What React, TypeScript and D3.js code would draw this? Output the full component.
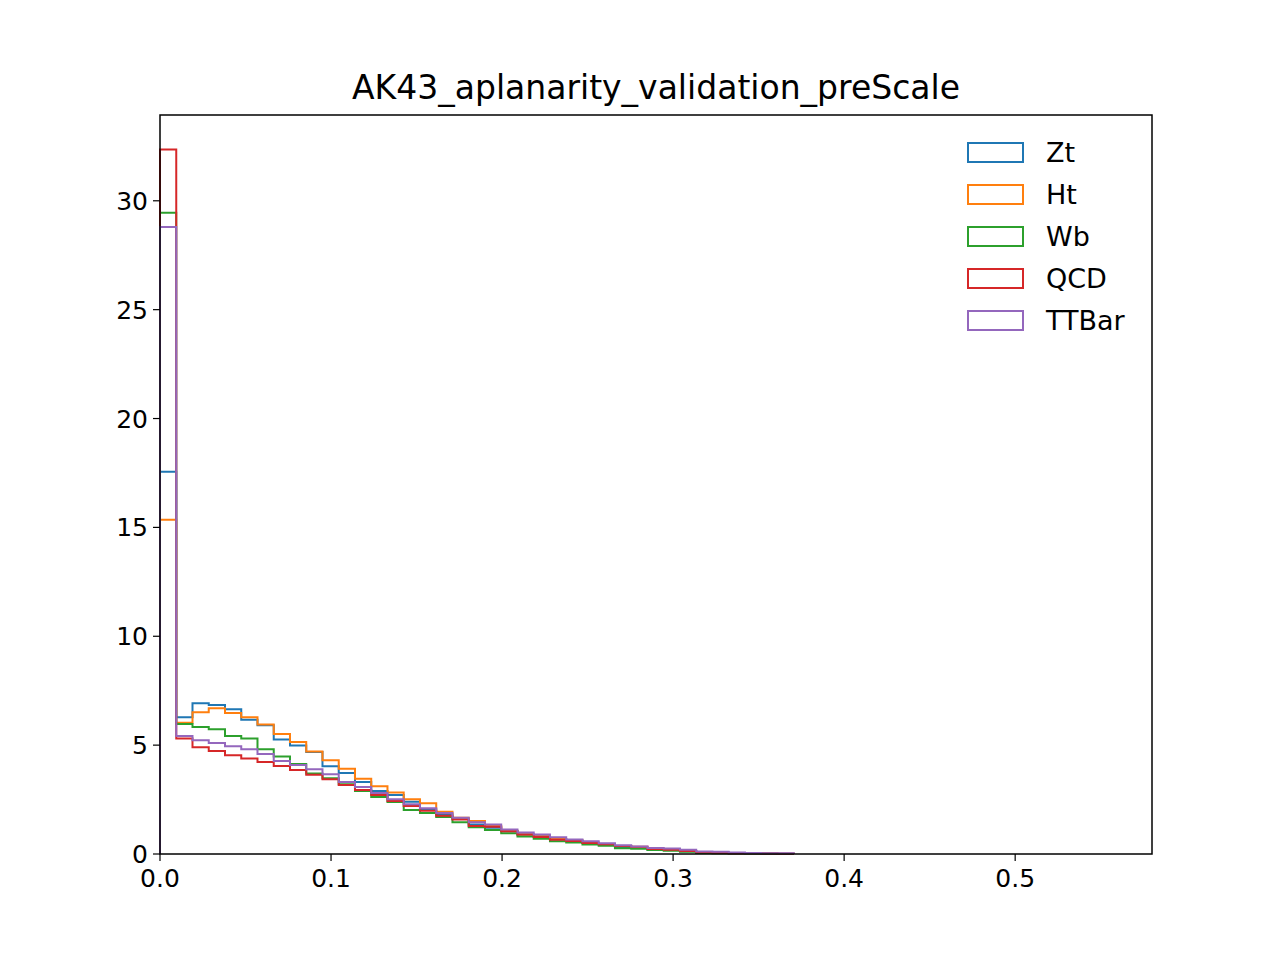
import React from "react";
import * as d3 from "d3";

const binWidth = 0.0095;
const series = ["Zt", "Ht", "Wb", "QCD", "TTBar"];
const colors = ["#1f77b4", "#ff7f0e", "#2ca02c", "#d62728", "#9467bd"];
const zt = [17.55,6.28,6.92,6.84,6.65,6.16,5.91,5.26,4.98,4.69,4.03,3.72,3.31,2.89,2.71,2.40,2.05,1.82,1.62,1.36,1.21,1.04,0.90,0.81,0.68,0.62,0.50,0.45,0.32,0.27,0.21,0.18,0.13,0.08,0.06,0.04,0.03,0.02,0.01];
const ht = [15.35,6.03,6.51,6.69,6.48,6.28,5.95,5.51,5.14,4.71,4.30,3.91,3.46,3.11,2.83,2.51,2.33,1.94,1.67,1.52,1.29,1.07,0.90,0.81,0.69,0.63,0.53,0.46,0.37,0.31,0.24,0.20,0.14,0.08,0.06,0.04,0.03,0.02,0.01];
const wb = [29.45,5.97,5.83,5.73,5.42,5.31,4.81,4.48,4.13,3.70,3.48,3.20,2.89,2.62,2.39,2.02,1.88,1.70,1.46,1.23,1.10,0.95,0.80,0.70,0.58,0.53,0.44,0.38,0.26,0.24,0.18,0.15,0.10,0.05,0.04,0.03,0.02,0.01,0.0];
const qcd = [32.35,5.31,4.90,4.73,4.53,4.39,4.23,4.04,3.86,3.64,3.43,3.17,2.94,2.71,2.43,2.20,1.99,1.76,1.59,1.29,1.25,1.05,0.89,0.78,0.66,0.60,0.50,0.45,0.37,0.33,0.23,0.20,0.14,0.08,0.06,0.04,0.03,0.02,0.01];
const ttbar = [28.8,5.42,5.22,5.10,4.95,4.81,4.59,4.27,4.09,3.89,3.66,3.31,3.08,2.80,2.51,2.28,2.10,1.88,1.67,1.46,1.36,1.13,0.99,0.90,0.77,0.67,0.58,0.49,0.40,0.35,0.28,0.25,0.19,0.12,0.10,0.07,0.05,0.04,0.03];
const data = [zt, ht, wb, qcd, ttbar];
const xTicks = [0, 0.1, 0.2, 0.3, 0.4, 0.5];
const yTicks = [0, 5, 10, 15, 20, 25, 30];

export default function App() {
  const L = 160, R = 1152, T = 115, B = 854;
  const x = d3.scaleLinear().domain([0, 0.58]).range([L, R]);
  const y = d3.scaleLinear().domain([0, 33.94]).range([B, T]);
  const path = (vals: number[]) => {
    const pts: [number, number][] = [[x(0), y(0)]];
    vals.forEach((v, i) => {
      pts.push([x(i * binWidth), y(v)]);
      pts.push([x((i + 1) * binWidth), y(v)]);
    });
    pts.push([x(vals.length * binWidth), y(0)]);
    return d3.line()(pts) as string;
  };
  const font = "DejaVu Sans";
  return (
    <svg width={1280} height={960} style={{ position: "absolute", left: 0, top: 0, background: "#fff" }} fontFamily={font}>
      <rect width={1280} height={960} fill="#fff" />
      <text x={656} y={99} textAnchor="middle" fontSize={33}>AK43_aplanarity_validation_preScale</text>
      {data.map((d, i) => (
        <path key={i} d={path(d)} fill="none" stroke={colors[i]} strokeWidth={2} strokeLinejoin="miter" />
      ))}
      <rect x={L} y={T} width={R - L} height={B - T} fill="none" stroke="#000" strokeWidth={1.5} />
      {xTicks.map(t => (
        <g key={t}>
          <line x1={x(t)} x2={x(t)} y1={B} y2={B + 7} stroke="#000" strokeWidth={1.2} />
          <text x={x(t)} y={B + 33} textAnchor="middle" fontSize={25}>{t.toFixed(1)}</text>
        </g>
      ))}
      {yTicks.map(t => (
        <g key={t}>
          <line x1={L - 7} x2={L} y1={y(t)} y2={y(t)} stroke="#000" strokeWidth={1.2} />
          <text x={L - 12} y={y(t) + 9} textAnchor="end" fontSize={25}>{t}</text>
        </g>
      ))}
      {series.map((s, i) => (
        <g key={s}>
          <rect x={968} y={143 + i * 42} width={55} height={19} fill="none" stroke={colors[i]} strokeWidth={2} />
          <text x={1046} y={162 + i * 42} fontSize={27}>{s}</text>
        </g>
      ))}
    </svg>
  );
}
